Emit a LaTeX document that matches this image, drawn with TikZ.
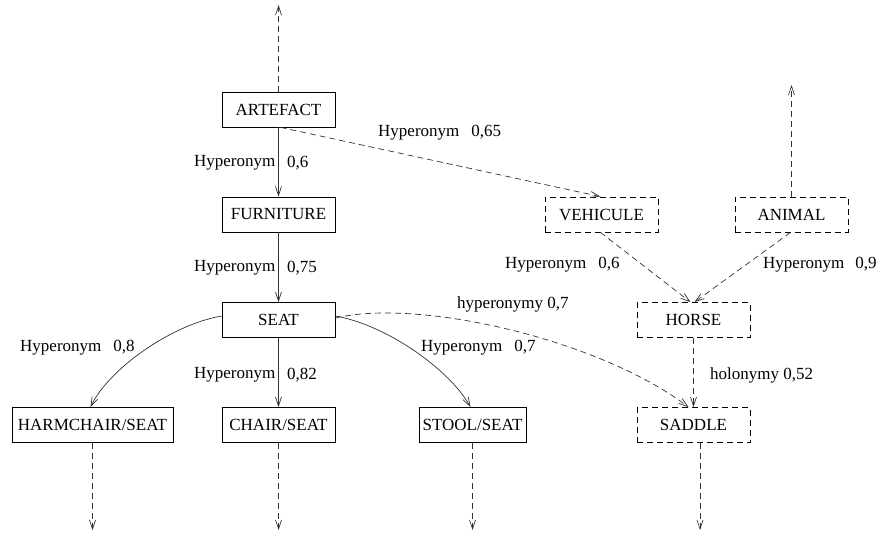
\documentclass[tikz,border=0pt]{standalone}
\usepackage{fontspec}
\setmainfont{Liberation Serif}
\usetikzlibrary{arrows.meta}

\begin{document}
\begin{tikzpicture}[x=1pt,y=-1pt,
  concept/.style={draw, line width=0.8pt, minimum height=35pt, minimum width=113pt,
    inner sep=0pt, font=\fontsize{17}{19}\selectfont},
  guess/.style={concept, dashed, dash pattern=on 6pt off 4pt},
  rel/.style={-{Straight Barb[length=9pt,width=6pt]}, line width=0.7pt, draw=black!80},
  weak/.style={rel, dash pattern=on 6pt off 4pt},
  lbl/.style={font=\fontsize{17}{19}\selectfont, inner sep=0pt}]
\useasboundingbox (0,0) rectangle (878,535);

% concept boxes
\node[concept] (artefact)  at (278.5,109.5) {ARTEFACT};
\node[concept] (furniture) at (278.5,214.5) {FURNITURE};
\node[concept] (seat)      at (278.5,320)   {SEAT};
\node[concept, minimum width=161pt] (harm) at (92.5,425) {HARMCHAIR/SEAT};
\node[concept] (chair)     at (278.5,425)   {CHAIR/SEAT};
\node[concept, minimum width=107pt] (stool) at (472.5,425) {STOOL/SEAT};
\node[guess] (vehicule) at (601.5,214.5) {VEHICULE};
\node[guess] (animal)   at (791.5,214.5) {ANIMAL};
\node[guess] (horse)    at (693.5,320)   {HORSE};
\node[guess] (saddle)   at (693.5,425)   {SADDLE};

% free ends of the open arrows
\coordinate (artefactUp) at (278.5,5);
\coordinate (animalUp)   at (791.5,85);
\coordinate (harmDown)   at (92.5,530);
\coordinate (chairDown)  at (278.5,530);
\coordinate (stoolDown)  at (472.5,530);
\coordinate (saddleDown) at (700,530);

\draw[weak] (artefact.north) -- (artefactUp);
\draw[weak] (animal.north) -- (animalUp);
\draw[weak] (harm.south) -- (harmDown);
\draw[weak] (chair.south) -- (chairDown);
\draw[weak] (stool.south) -- (stoolDown);
\draw[weak] (saddle.south -| saddleDown) -- (saddleDown);

% taxonomy links
\draw[rel] (artefact) -- (furniture);
\draw[rel] (furniture) -- (seat);
\draw[rel] (seat) -- (chair);
\draw[rel] ([yshift=4pt]seat.west) .. controls (170,325) and (108,370) .. ([xshift=-2pt]harm.north);
\draw[rel] ([yshift=4pt]seat.east) .. controls (387,325) and (450,370) .. ([xshift=-2pt]stool.north);

% links to the other hierarchy
\draw[weak] ([xshift=2pt]artefact.south) -- ([xshift=-1pt]vehicule.north);
\draw[weak] ([yshift=2pt]seat.east) .. controls (420,298) and (600,340) .. ([xshift=-5pt]saddle.north);
\draw[weak] ([xshift=-1pt]vehicule.south) -- ([xshift=-3pt]horse.north);
\draw[weak] ([xshift=-1pt]animal.south) -- ([xshift=1pt]horse.north);
\draw[weak] (horse) -- (saddle.north -| horse);

% link labels
\node[lbl, anchor=east] at (275.5,163) {Hyperonym};
\node[lbl, anchor=west] at (287,163) {0,6};
\node[lbl, anchor=east] at (275.5,268) {Hyperonym};
\node[lbl, anchor=west] at (287,268) {0,75};
\node[lbl, anchor=east] at (275.5,375) {Hyperonym};
\node[lbl, anchor=west] at (287,375) {0,82};
\node[lbl, anchor=west] at (378,133) {Hyperonym\hspace{12pt}0,65};
\node[lbl, anchor=west] at (20,348) {Hyperonym\hspace{12pt}0,8};
\node[lbl, anchor=west] at (421,348) {Hyperonym\hspace{12pt}0,7};
\node[lbl, anchor=west] at (457,304) {hyperonymy 0,7};
\node[lbl, anchor=west] at (505,265) {Hyperonym\hspace{12pt}0,6};
\node[lbl, anchor=west] at (763,265) {Hyperonym\hspace{11pt}0,9};
\node[lbl, anchor=west] at (710,375) {holonymy 0,52};
\end{tikzpicture}
\end{document}
